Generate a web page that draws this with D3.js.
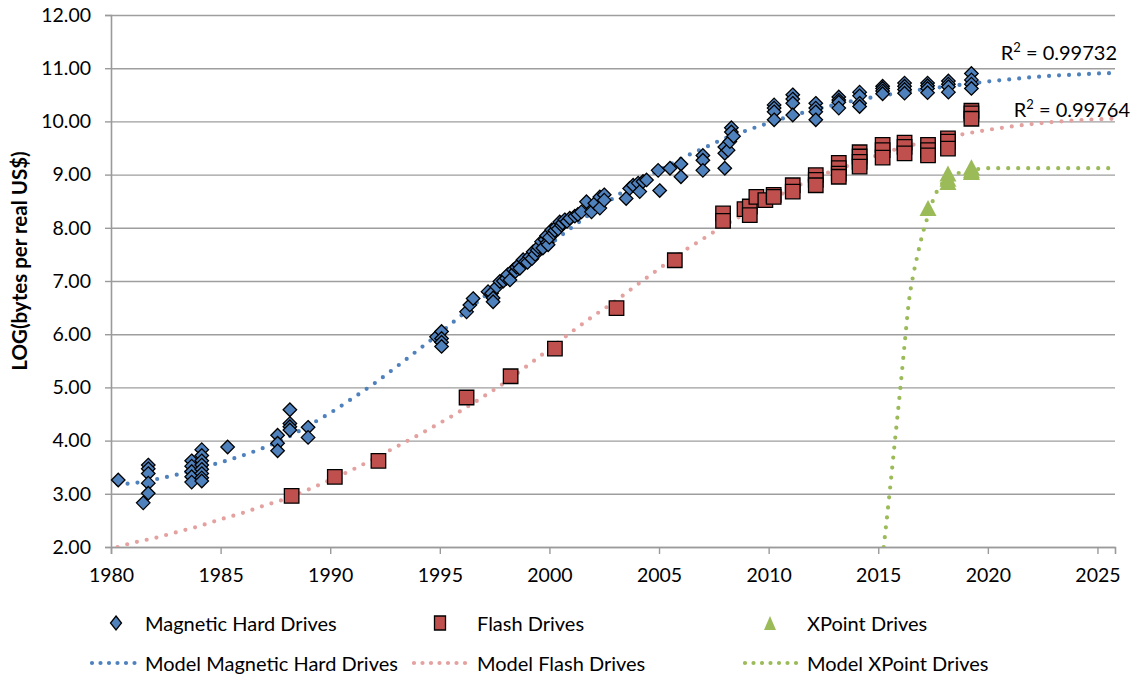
<!DOCTYPE html>
<html><head><meta charset="utf-8">
<script src="https://cdn.jsdelivr.net/npm/d3@7"></script>
<style>
html,body{margin:0;padding:0;background:#fff;}
svg{display:block;font-family:Lato,"Open Sans",sans-serif;}
</style></head>
<body>
<svg id="chart" width="1134" height="677"></svg>
<script>
// ---------- data ----------
const xTickValues = [1980, 1985, 1990, 1995, 2000, 2005, 2010, 2015, 2020, 2025];
const yTickValues = [2, 3, 4, 5, 6, 7, 8, 9, 10, 11, 12];
const yAxisTitle = "LOG(bytes per real US$)";

const magYears = [1980.33,1981.47,1981.7,1981.7,1981.7,1981.7,1981.7,
  1983.68,1983.68,1983.68,1983.68,1983.68,
  1984.14,1984.14,1984.14,1984.14,1984.14,1984.14,1984.14,1984.14,
  1985.32,1987.6,1987.6,1987.6,1988.16,1988.16,1988.16,1988.16,1988.99,1988.99,
  1994.85,1995.08,1995.08,1995.08,1995.08,1996.22,1996.37,1996.52,
  1997.2,1997.36,1997.43,1997.43,1997.6,1997.74,1997.9,1998.04,1998.1,1998.2,1998.35,1998.45,
  1998.5,1998.6,1998.65,1998.8,1998.9,1999.0,1999.1,1999.2,1999.26,1999.35,1999.45,1999.5,1999.64,1999.7,
  1999.8,1999.87,1999.9,1999.94,2000.0,2000.1,2000.2,2000.25,2000.32,2000.4,2000.47,2000.55,2000.6,2000.7,
  2000.8,2000.93,2001.16,2001.3,2001.46,2001.69,2001.92,2002.07,2002.3,2002.3,2002.5,2002.5,
  2003.5,2003.66,2003.82,2004.05,2004.12,2004.27,2004.43,2004.96,2005.03,2005.5,
  2006.0,2006.0,2007.0,2007.0,2007.0,2008.0,2008.0,2008.0,2008.15,2008.23,2008.3,2008.3,2008.4,
  2010.25,2010.25,2010.25,2010.25,2011.1,2011.1,2011.1,2011.1,
  2012.15,2012.15,2012.15,2012.15,2013.2,2013.2,2013.2,2013.2,
  2014.15,2014.15,2014.15,2014.15,2015.2,2015.2,2015.2,2015.2,
  2016.2,2016.2,2016.2,2016.2,2017.25,2017.25,2017.25,2017.25,
  2018.2,2018.2,2018.2,2018.2,2019.25,2019.25,2019.25,2019.25];
const magValues = [3.26,2.83,3.54,3.47,3.38,3.20,3.01,
  3.62,3.52,3.42,3.32,3.22,
  3.83,3.72,3.62,3.54,3.46,3.38,3.30,3.24,
  3.88,4.10,3.95,3.81,4.58,4.32,4.26,4.20,4.25,4.06,
  5.95,6.05,5.92,5.85,5.77,6.42,6.55,6.67,
  6.80,6.77,6.68,6.61,6.89,6.99,7.00,7.05,7.12,7.02,7.21,7.18,
  7.26,7.30,7.24,7.40,7.36,7.35,7.46,7.42,7.55,7.50,7.58,7.64,7.74,7.62,
  7.78,7.85,7.72,7.68,7.82,7.96,7.90,7.95,8.02,7.98,8.11,8.05,8.09,8.15,
  8.12,8.18,8.22,8.25,8.30,8.49,8.30,8.46,8.58,8.37,8.62,8.52,
  8.55,8.74,8.80,8.84,8.68,8.87,8.90,9.08,8.70,9.12,
  9.20,8.96,9.36,9.27,9.08,9.52,9.40,9.12,9.46,9.62,9.88,9.80,9.72,
  10.31,10.25,10.18,10.03,10.50,10.42,10.34,10.12,
  10.34,10.25,10.18,10.03,10.46,10.40,10.36,10.25,
  10.55,10.48,10.34,10.28,10.66,10.62,10.57,10.52,
  10.72,10.66,10.60,10.53,10.72,10.67,10.62,10.54,
  10.76,10.70,10.65,10.55,10.90,10.78,10.70,10.62];

const flashYears = [1988.24,1990.21,1992.2,1996.22,1998.23,2000.25,2003.06,2005.72,
  2007.92,2007.92,2008.9,2009.14,2009.14,2009.44,2009.85,2010.23,2010.23,2011.1,2011.1,
  2012.15,2012.15,2012.15,2013.2,2013.2,2013.2,2013.2,2014.15,2014.15,2014.15,2014.15,
  2015.2,2015.2,2015.2,2016.2,2016.2,2016.2,2017.27,2017.27,2017.27,
  2018.18,2018.18,2018.18,2019.25,2019.25,2019.25];
const flashValues = [2.96,3.32,3.62,4.81,5.21,5.73,6.49,7.39,
  8.27,8.13,8.35,8.40,8.24,8.58,8.52,8.62,8.58,8.80,8.68,
  8.99,8.90,8.80,9.22,9.12,9.02,8.96,9.42,9.34,9.24,9.15,
  9.56,9.46,9.32,9.60,9.52,9.40,9.56,9.46,9.36,
  9.68,9.62,9.49,10.20,10.15,10.05];

const xpointYears = [2017.27,2018.18,2018.18,2018.18,2019.25,2019.25,2019.25];
const xpointValues = [8.37,9.02,8.92,8.86,9.14,9.08,9.05];

// model (trend) curves
const trendYears = [1980.3,1981,1982,1983,1984,1985,1986,1987,1988,1989,1990,1991,1992,1993,1994,
  1995,1996,1997,1998,1999,2000,2001,2002,2003,2004,2005,2006,2007,2008,2009,2010,2011,2012,
  2013,2014,2015,2016,2017,2018,2019,2020,2021,2022,2023,2024,2025,2025.8];
const magModel = [3.18,3.20,3.27,3.36,3.48,3.59,3.72,3.87,4.05,4.28,4.52,4.79,5.07,5.38,5.70,
  6.02,6.36,6.70,7.02,7.35,7.68,8.00,8.30,8.58,8.85,9.08,9.30,9.49,9.68,9.83,9.97,10.10,10.21,
  10.31,10.40,10.47,10.54,10.60,10.65,10.70,10.75,10.79,10.83,10.86,10.88,10.90,10.91];
const flashModel = [2.00,2.08,2.17,2.28,2.39,2.52,2.64,2.78,2.91,3.08,3.26,3.45,3.66,3.88,4.10,
  4.33,4.57,4.83,5.10,5.41,5.72,6.04,6.34,6.62,6.93,7.23,7.53,7.79,8.05,8.28,8.50,8.72,8.92,
  9.08,9.22,9.37,9.50,9.60,9.69,9.77,9.84,9.90,9.95,9.99,10.02,10.04,10.05];
const xpointModelYears = [2015.25,2015.5,2015.75,2016.0,2016.2,2016.4,2016.6,2016.8,2017.0,2017.25,
  2017.5,2017.75,2018.0,2018.5,2019.0,2019.5,2020,2021,2023,2025.8];
const xpointModel = [2.00,2.95,3.95,4.95,5.80,6.62,7.12,7.50,7.85,8.20,
  8.52,8.74,8.87,9.00,9.07,9.10,9.12,9.12,9.12,9.12];

const r2Labels = ["0.99732", "0.99764"];
const legendLabels = ["Magnetic Hard Drives","Flash Drives","XPoint Drives",
  "Model Magnetic Hard Drives","Model Flash Drives","Model XPoint Drives"];

(function draw() {
// ---------- styling ----------
const BLUE = "#4F81BD", RED = "#C0504D", GREEN = "#9BBB59";
const BLUE_T = "#4F81BD", RED_T = "#E3A19F", GREEN_T = "#9BBB59";
const GRID = "#9E9E9E", AXIS = "#9A9A9A";
const TEXT = "#000";

const svg = d3.select("#chart");
const pLeft = 111, pRight = 1115, pTop = 15, pBottom = 547;
const x = d3.scaleLinear().domain([1980, 2025.8]).range([pLeft, pRight]);
const y = d3.scaleLinear().domain([2, 12]).range([pBottom, pTop]);

// gridlines
svg.append("g").attr("transform", `translate(${pLeft},0)`)
  .call(d3.axisLeft(y).tickValues(yTickValues).tickSize(-(pRight-pLeft)).tickFormat(""))
  .call(g => g.select(".domain").remove())
  .call(g => g.selectAll("line").attr("stroke", GRID).attr("stroke-width", 1.4));

// y axis
const yAxis = svg.append("g").attr("transform", `translate(${pLeft},0)`)
  .call(d3.axisLeft(y).tickValues(yTickValues).tickSize(6).tickPadding(14).tickFormat(d3.format(".2f")));
yAxis.select(".domain").attr("stroke", AXIS).attr("stroke-width", 1.6);
yAxis.selectAll("line").attr("stroke", AXIS).attr("stroke-width", 1.4);
yAxis.selectAll("text").attr("fill", TEXT).style("font-size", "19.5px").style("font-family", "Lato");

// x axis
const xAxis = svg.append("g").attr("transform", `translate(0,${pBottom})`)
  .call(d3.axisBottom(x).tickValues(xTickValues).tickSize(7).tickPadding(14).tickFormat(d3.format("d")));
xAxis.select(".domain").attr("stroke", AXIS).attr("stroke-width", 1.6);
xAxis.selectAll("line").attr("stroke", AXIS).attr("stroke-width", 1.4);
xAxis.selectAll("text").attr("fill", TEXT).style("font-size", "19.5px").style("font-family", "Lato");

// y axis title
svg.append("text")
  .attr("transform", `translate(19,261) rotate(-90)`)
  .attr("text-anchor", "middle").attr("dominant-baseline", "central")
  .style("font-size", "20.5px").style("font-weight", "bold").attr("fill", TEXT)
  .text(yAxisTitle);

// clip
svg.append("clipPath").attr("id", "plotclip").append("rect")
  .attr("x", pLeft).attr("y", pTop - 2).attr("width", pRight - pLeft + 2).attr("height", pBottom - pTop + 2);

// trend lines
const line = d3.line().x(d => x(d[0])).y(d => y(d[1])).curve(d3.curveMonotoneX);
const trends = [
  {pts: d3.zip(trendYears, magModel), color: BLUE_T},
  {pts: d3.zip(trendYears, flashModel), color: RED_T},
  {pts: d3.zip(xpointModelYears, xpointModel), color: GREEN_T}
];
const tg = svg.append("g").attr("clip-path", "url(#plotclip)");
trends.forEach(t => {
  tg.append("path").attr("d", line(t.pts)).attr("fill", "none")
    .attr("stroke", t.color).attr("stroke-width", 4.2)
    .attr("stroke-linecap", "round").attr("stroke-dasharray", "0 10");
});

// marker shapes
const diamond = (w, h) => `M0,${-h/2}L${w/2},0L0,${h/2}L${-w/2},0Z`;
const square = (w, h) => `M${-w/2},${-h/2}H${w/2}V${h/2}H${-w/2}Z`;
const triangle = (w, h) => `M0,${-h/2}L${w/2},${h/2}L${-w/2},${h/2}Z`;

svg.append("g").selectAll("path").data(d3.zip(magYears, magValues)).join("path")
  .attr("transform", d => `translate(${x(d[0])},${y(d[1])})`)
  .attr("d", diamond(13.5, 13.5)).attr("fill", BLUE).attr("stroke", "#000").attr("stroke-width", 1.3);

svg.append("g").selectAll("path").data(d3.zip(flashYears, flashValues)).join("path")
  .attr("transform", d => `translate(${x(d[0])},${y(d[1])})`)
  .attr("d", square(14.5, 14.5)).attr("fill", RED).attr("stroke", "#000").attr("stroke-width", 1.3);

svg.append("g").selectAll("path").data(d3.zip(xpointYears, xpointValues)).join("path")
  .attr("transform", d => `translate(${x(d[0])},${y(d[1])})`)
  .attr("d", triangle(17, 16)).attr("fill", GREEN);

// R² labels
const r2 = svg.append("g").style("font-size", "20px").attr("fill", TEXT);
[[1117, 60, r2Labels[0]], [1130, 117, r2Labels[1]]].forEach(([tx, ty, v]) => {
  const t = r2.append("text").attr("x", tx).attr("y", ty).attr("text-anchor", "end");
  t.append("tspan").text("R");
  t.append("tspan").attr("dy", -8).style("font-size", "13px").text("2");
  t.append("tspan").attr("dy", 8).text(" = " + v);
});

// legend
const lg = svg.append("g").style("font-size", "20px").attr("fill", TEXT);
const row1 = 623, row2 = 663;
const cols = [{marker: 116, line: [92, 139], text: 145},
              {marker: 440, line: [414, 468], text: 477},
              {marker: 770, line: [745, 799], text: 807}];
const legMarkers = [
  {d: diamond(11, 14), fill: BLUE, stroke: "#000"},
  {d: square(11, 14), fill: RED, stroke: "#000"},
  {d: triangle(12, 14), fill: GREEN, stroke: "none"}
];
const legTrend = [BLUE_T, RED_T, GREEN_T];
cols.forEach((c, i) => {
  lg.append("path").attr("transform", `translate(${c.marker},${row1})`)
    .attr("d", legMarkers[i].d).attr("fill", legMarkers[i].fill)
    .attr("stroke", legMarkers[i].stroke).attr("stroke-width", 1.3);
  lg.append("text").attr("x", c.text).attr("y", row1).attr("dominant-baseline", "central").text(legendLabels[i]);
  lg.append("line").attr("x1", c.line[0]).attr("x2", c.line[1]).attr("y1", row2).attr("y2", row2)
    .attr("stroke", legTrend[i]).attr("stroke-width", 4.2).attr("stroke-linecap", "round")
    .attr("stroke-dasharray", "0 8.5");
  lg.append("text").attr("x", c.text).attr("y", row2).attr("dominant-baseline", "central").text(legendLabels[i + 3]);
});
})();
</script>
</body></html>
